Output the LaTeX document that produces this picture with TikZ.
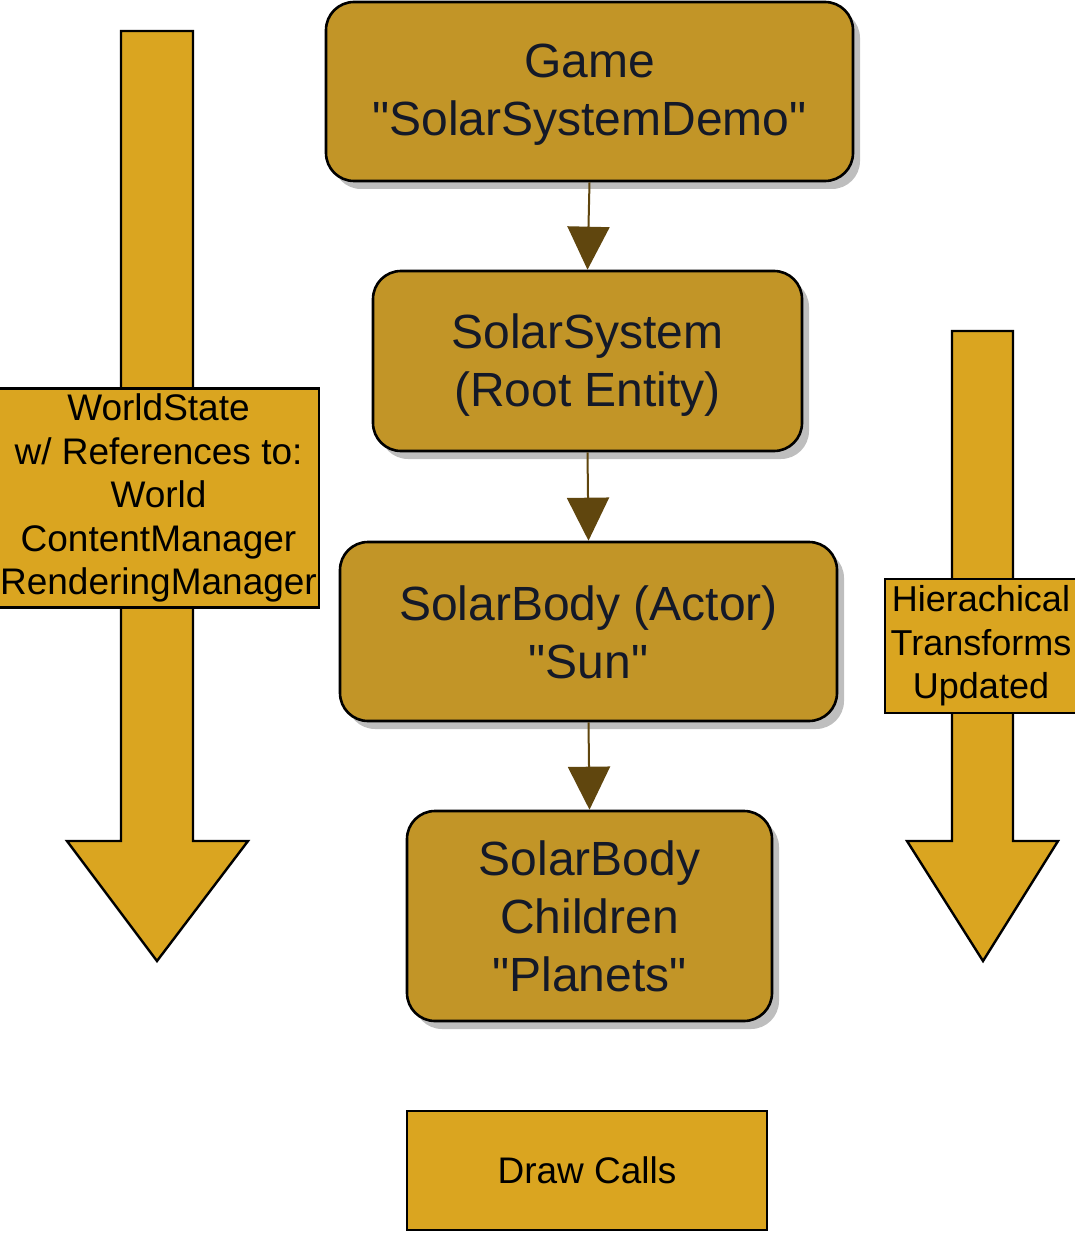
\documentclass[tikz,border=0pt]{standalone}
\usepackage{fontspec}
\setmainfont{Liberation Sans}
\usetikzlibrary{arrows.meta,shadows}
\definecolor{boxfill}{RGB}{194,149,39}
\definecolor{gold}{RGB}{218,165,32}
\definecolor{conncol}{RGB}{96,70,14}
\definecolor{txtcol}{RGB}{20,25,40}
\definecolor{shadowcol}{RGB}{190,190,190}
\newcommand{\qq}{\textquotedbl}
\begin{document}
\begin{tikzpicture}[x=1pt,y=-1pt,
  mainbox/.style={draw=black,line width=2.6pt,fill=boxfill,rounded corners=28pt,
    inner sep=0pt,
    drop shadow={shadow xshift=7pt,shadow yshift=-8pt,fill=shadowcol,opacity=1}},
  maintext/.style={text=txtcol,align=center,inner sep=0pt,
    font=\fontsize{48}{58}\selectfont},
  labelbox/.style={draw=black,line width=2.4pt,fill=gold,align=center,inner sep=0pt,
    font=\fontsize{37}{43.5}\selectfont},
  bigarrow/.style={draw=black,line width=2.4pt,fill=gold,line join=miter},
  conn/.style={draw=conncol,line width=2pt,-{Triangle[width=42pt,length=43pt]},fill=conncol}
]
\useasboundingbox (0,0) rectangle (1074,1233);

% big arrows
\draw[bigarrow] (121,31) -- (193,31) -- (193,841) -- (248,841) -- (157,961) -- (67,841) -- (121,841) -- cycle;
\draw[bigarrow] (952,331) -- (1013,331) -- (1013,841) -- (1058,841) -- (983,961) -- (907,841) -- (952,841) -- cycle;

\node[labelbox,minimum width=321pt,minimum height=219pt] (ws) at (158.5,498)
  {WorldState\\w/ References to:\\World\\ContentManager\\RenderingManager};
\node[labelbox,minimum width=192pt,minimum height=134pt,font=\fontsize{36}{43.5}\selectfont] (ht) at (981,646)
  {Hierachical\\Transforms\\Updated};

% main boxes
\node[mainbox,minimum width=527pt,minimum height=179pt] (game) at (589.5,91.5) {};
\node[maintext] (gamet) at (589.5,95) {Game\\\qq SolarSystemDemo\qq};
\node[mainbox,minimum width=429pt,minimum height=180pt] (ss) at (587.5,361) {};
\node[maintext] (sst) at (587.5,365) {SolarSystem\\(Root Entity)};
\node[mainbox,minimum width=497pt,minimum height=179pt] (sun) at (588.5,631.5) {};
\node[maintext] (sunt) at (588.5,632) {SolarBody (Actor)\\\qq Sun\qq};
\node[mainbox,minimum width=365pt,minimum height=210pt] (planets) at (589.5,916) {};
\node[maintext] (planetst) at (589.5,916) {SolarBody\\Children\\\qq Planets\qq};

\node[labelbox,minimum width=360pt,minimum height=119pt] (draw) at (587,1170.5)
  {Draw Calls};

% connectors
\draw[conn] (game.south) -- (ss.north);
\draw[conn] (ss.south) -- (sun.north);
\draw[conn] (sun.south) -- (planets.north);
\end{tikzpicture}
\end{document}
